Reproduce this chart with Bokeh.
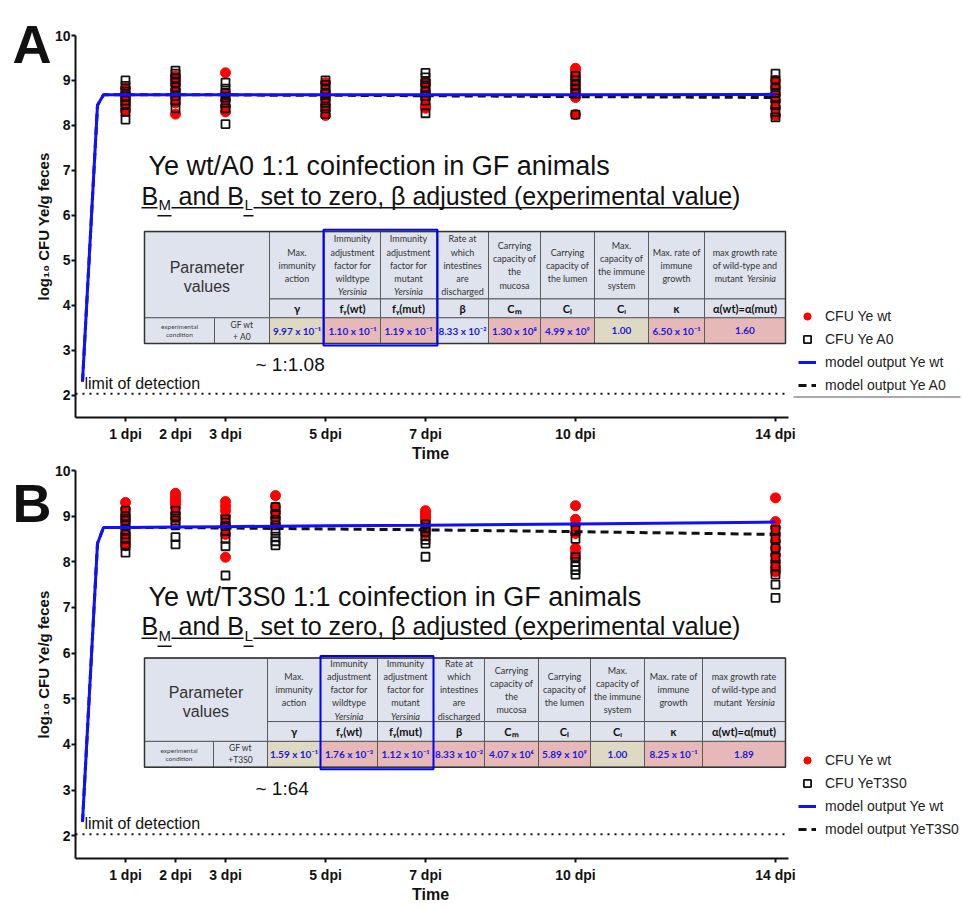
from bokeh.plotting import figure
from bokeh.models import Range1d, FixedTicker, Legend, LegendItem, LinearAxis
from bokeh.layouts import column
from bokeh.embed import file_html
from bokeh.resources import INLINE
from bokeh.core.properties import value

# ---------------- data ----------------
tick_days = [1, 2, 3, 5, 7, 10, 14]
tick_labels = ["1 dpi", "2 dpi", "3 dpi", "5 dpi", "7 dpi", "10 dpi", "14 dpi"]
y_ticks = [2, 3, 4, 5, 6, 7, 8, 9, 10]
limit_of_detection = 2.03

# Panel A: CFU (log10) per day
A_wt = {1: [8.33, 8.45, 8.55, 8.62, 8.72, 8.83],
        2: [8.25, 8.5, 8.62, 8.78, 8.92, 9.02, 9.1],
        3: [8.3, 8.42, 8.57, 8.7, 9.17],
        5: [8.22, 8.35, 8.45, 8.6, 8.75, 8.95],
        7: [8.38, 8.45, 8.6, 8.75, 8.9, 8.97],
        10: [8.24, 8.62, 8.7, 8.8, 8.9, 9.0, 9.1, 9.2, 9.27],
        14: [8.22, 8.4, 8.55, 8.7, 8.85, 9.0]}
A_A0 = {1: [8.13, 8.3, 8.45, 8.55, 8.65, 8.75, 8.88, 9.0],
        2: [8.38, 8.55, 8.65, 8.75, 8.85, 8.95, 9.05, 9.15, 9.22],
        3: [8.03, 8.38, 8.5, 8.62, 8.72, 8.82, 8.95],
        5: [8.25, 8.38, 8.5, 8.6, 8.7, 8.8, 8.9, 9.0],
        7: [8.27, 8.55, 8.65, 8.75, 8.85, 8.95, 9.07, 9.17],
        10: [8.24, 8.7, 8.8, 8.9, 9.0, 9.1],
        14: [8.18, 8.3, 8.45, 8.6, 8.72, 8.85, 9.0, 9.15]}

# Panel B
B_wt = {1: [8.35, 8.42, 8.5, 8.6, 8.75, 8.9, 9.0, 9.15, 9.3],
        2: [8.95, 9.05, 9.2, 9.27, 9.33, 9.4, 9.45, 9.5],
        3: [8.1, 8.6, 8.8, 9.0, 9.12, 9.22, 9.32],
        4: [8.82, 8.95, 9.08, 9.2, 9.45],
        7: [8.62, 8.7, 8.88, 8.95, 9.0, 9.07, 9.12],
        10: [8.1, 8.2, 8.3, 8.62, 8.82, 8.93, 9.23],
        14: [7.78, 7.88, 8.0, 8.15, 8.3, 8.45, 8.6, 8.75, 8.88, 9.4]}
B_T3S0 = {1: [8.2, 8.35, 8.5, 8.6, 8.7, 8.8, 8.9, 9.0, 9.12],
          2: [8.38, 8.54, 8.8, 8.9, 9.0, 9.12],
          3: [7.7, 8.34, 8.5, 8.68, 8.78, 8.86, 8.93],
          4: [8.36, 8.45, 8.55, 8.68, 8.8, 8.92, 9.05, 9.2],
          7: [8.11, 8.4, 8.48, 8.56, 8.66, 8.75, 8.82],
          10: [7.72, 7.82, 7.9, 8.0, 8.1, 8.5, 8.7],
          14: [7.21, 7.5, 7.72, 7.9, 8.1, 8.3, 8.5, 8.7]}

# model output
model_t = [0.14, 0.44, 0.56, 1, 2, 3, 4, 5, 7, 10, 14]
A_model_wt = [2.3, 8.45, 8.68, 8.68, 8.68, 8.68, 8.68, 8.68, 8.68, 8.68, 8.69]
A_model_A0 = [2.3, 8.45, 8.68, 8.68, 8.68, 8.68, 8.67, 8.67, 8.66, 8.64, 8.62]
B_model_wt = [2.3, 8.4, 8.75, 8.75, 8.76, 8.77, 8.78, 8.79, 8.8, 8.83, 8.87]
B_model_T3S0 = [2.3, 8.4, 8.75, 8.75, 8.75, 8.74, 8.73, 8.72, 8.7, 8.66, 8.6]

# parameter table
table_headers = ["Max.\nimmunity\naction",
                 "Immunity\nadjustment\nfactor for\nwildtype\n ",
                 "Immunity\nadjustment\nfactor for\nmutant\n ",
                 "Rate at\nwhich\nintestines\nare\ndischarged",
                 "Carrying\ncapacity of\nthe\nmucosa",
                 "Carrying\ncapacity of\nthe lumen",
                 "Max.\ncapacity of\nthe immune\nsystem",
                 "Max. rate of\nimmune\ngrowth",
                 "max growth rate\nof wild-type and\n "]
table_symbols = ["γ", "fᵧ(wt)", "fᵧ(mut)", "β", "Cₘ", "Cₗ", "Cᵢ", "κ", "α(wt)=α(mut)"]
A_table_values = ["9.97 x 10⁻¹", "1.10 x 10⁻¹", "1.19 x 10⁻¹", "8.33 x 10⁻²", "1.30 x 10⁸",
                  "4.99 x 10⁹", "1.00", "6.50 x 10⁻¹", "1.60"]
B_table_values = ["1.59 x 10⁻¹", "1.76 x 10⁻³", "1.12 x 10⁻¹", "8.33 x 10⁻²", "4.07 x 10⁶",
                  "5.89 x 10⁹", "1.00", "8.25 x 10⁻¹", "1.89"]

FONT = "Liberation Sans"
TFONT = "Lato"
HDR = "#dfe3ed"
BEIGE = "#ddd9c3"
PINK = "#e6b9b8"
A_table_colors = [BEIGE, PINK, PINK, HDR, PINK, PINK, BEIGE, PINK, PINK]
B_table_colors = [BEIGE, PINK, PINK, PINK, PINK, PINK, BEIGE, PINK, PINK]

X_AXIS_END = 14.25   # where the drawn x axis stops
X_FRAME_END = 17.7   # frame continues to the right to host the legend
TIME_POS = 7.1       # centre of the "Time" title under the drawn axis


def X(px):
    return (px - 75) / 50.0


def ya(py):
    return 10 - (py - 35) / 45.375


def yb(py):
    return 10 - (py - 470) / 46.0


def expand(d):
    xs, ys = [], []
    for day, vals in d.items():
        xs += [day] * len(vals)
        ys += vals
    return xs, ys


def txt(p, xs, ys, texts, size, color="#111111", style="normal", align="left",
        font=FONT, lh=1.2):
    p.text(x=xs, y=ys, text=texts, text_font=value(font), text_font_size=f"{size}px",
           text_color=color, text_font_style=style, text_align=align,
           text_baseline="middle", text_line_height=lh)


def bare_axis(tick, label, size, standoff):
    return LinearAxis(ticker=FixedTicker(ticks=[tick]), major_label_overrides={tick: label},
                      axis_line_color=None, major_tick_line_color=None,
                      minor_tick_line_color=None, major_tick_out=0, major_tick_in=0,
                      major_label_standoff=standoff, major_label_text_font=FONT,
                      major_label_text_font_size=size, major_label_text_font_style="bold",
                      major_label_text_color="#111111")


def panel(letter, wt, mut, mwt, mmut, labels, title1, vals, colors, cond, ratio, g):
    Y = g["Y"]
    p = figure(width=962, height=g["height"], x_range=Range1d(0, X_FRAME_END),
               y_range=Range1d(1.5, 10), output_backend="svg", toolbar_location=None,
               min_border_left=75, min_border_right=2, min_border_top=g["top"],
               min_border_bottom=g["bottom"])
    p.xgrid.visible = False
    p.ygrid.visible = False
    p.outline_line_color = None
    p.background_fill_color = None
    p.border_fill_color = None

    for ax in (p.xaxis, p.yaxis):
        ax.axis_line_width = 2
        ax.axis_line_color = "#111111"
        ax.major_tick_line_width = 2
        ax.major_tick_line_color = "#111111"
        ax.major_tick_in = 0
        ax.major_tick_out = 4
        ax.minor_tick_line_color = None
        ax.major_label_text_font = FONT
        ax.major_label_text_font_style = "bold"
        ax.major_label_text_font_size = "14px"
        ax.major_label_text_color = "#111111"
        ax.axis_label_text_font = FONT
        ax.axis_label_text_font_style = "bold"
        ax.axis_label_text_color = "#111111"
    p.xaxis.ticker = FixedTicker(ticks=tick_days)
    p.xaxis.bounds = (0, X_AXIS_END)
    p.xaxis.major_label_overrides = {d: l for d, l in zip(tick_days, tick_labels)}
    p.xaxis.major_label_standoff = 4
    p.yaxis.ticker = FixedTicker(ticks=y_ticks)
    p.yaxis.axis_label = "log₁₀ CFU Ye/g feces"
    p.yaxis.axis_label_text_font_size = "15px"
    p.yaxis.major_label_standoff = 1
    p.yaxis.axis_label_standoff = 0

    # "Time" title centred under the drawn part of the x axis
    p.add_layout(bare_axis(TIME_POS, "Time", "16px", 0), "below")
    # panel letter as an extra, line-less axis on the left
    p.add_layout(bare_axis(g["letter"], letter, "54px", -20), "left")

    # limit of detection (dotted, along the drawn x axis)
    p.segment(x0=[0], x1=[X_AXIS_END], y0=[limit_of_detection], y1=[limit_of_detection],
              line_color="#111111", line_width=2, line_dash="2 5")

    # data
    xw, yw = expand(wt)
    xm, ym = expand(mut)
    r_wt = p.scatter(xw, yw, marker="circle", size=10, fill_color="#ff0000",
                     line_color="#ff0000")
    r_mut = p.scatter(xm, ym, marker="square", size=8, fill_alpha=0, line_color="#111111",
                      line_width=1.8)
    r_mm = p.line(model_t, mmut, line_color="#111111", line_width=3, line_dash="8 5")
    r_mw = p.line(model_t, mwt, line_color="#1010ff", line_width=3)

    # annotations
    txt(p, [X(84)], [Y(g["lod"])], ["limit of detection"], 16)
    txt(p, [X(148)], [Y(g["t1"])], [title1], 27)
    t2 = Y(g["t2"])
    ts = Y(g["t2"] + 9)
    txt(p, [X(141), X(178), X(260)], [t2, t2, t2],
        ["B", "and B", "set to zero, β adjusted (experimental value)"], 25)
    txt(p, [X(158), X(244)], [ts, ts], ["M", "L"], 15)
    ul = Y(g["t2"] + 12)
    ul2 = Y(g["t2"] + 20)
    p.segment(x0=[X(141), X(171), X(253), X(157), X(243)],
              x1=[X(157), X(243), X(732), X(171), X(253)],
              y0=[ul, ul, ul, ul2, ul2], y1=[ul, ul, ul, ul2, ul2],
              line_color="#111111", line_width=1.5)
    txt(p, [X(255)], [Y(g["ratio"])], [ratio], 19)
    if g.get("sep"):
        sp = Y(g["sep"])
        p.segment(x0=[X(793)], x1=[X(962)], y0=[sp], y1=[sp], line_color="#555555",
                  line_width=1)

    # table
    c = g["cols"]
    top, r1, r2, bot = g["rows"]
    L, R, T, B, F = [], [], [], [], []

    def cell(x0, x1, y0, y1, col):
        L.append(X(x0)); R.append(X(x1)); T.append(Y(y0)); B.append(Y(y1)); F.append(col)

    cell(c[0], c[2], top, r2, HDR)
    cell(c[0], c[1], r2, bot, HDR)
    cell(c[1], c[2], r2, bot, HDR)
    for i in range(9):
        cell(c[i + 2], c[i + 3], top, r1, HDR)
        cell(c[i + 2], c[i + 3], r1, r2, HDR)
        cell(c[i + 2], c[i + 3], r2, bot, colors[i])
    p.quad(left=L, right=R, top=T, bottom=B, fill_color=F, line_color="#5a5a5a", line_width=1)
    p.quad(left=[X(c[0])], right=[X(c[-1])], top=[Y(top)], bottom=[Y(bot)], fill_alpha=0,
           line_color="#333333", line_width=1.5)
    bx = g["box"]
    p.quad(left=[X(bx[0])], right=[X(bx[1])], top=[Y(bx[2])], bottom=[Y(bx[3])], fill_alpha=0,
           line_color="#0000ff", line_width=2)

    cx = [X((c[i + 2] + c[i + 3]) / 2) for i in range(9)]
    hy = Y((top + r1) / 2)
    txt(p, cx, [hy] * 9, table_headers, 9, color="#333333", align="center",
        font=TFONT, lh=1.2)
    txt(p, [cx[1], cx[2]], [hy, hy], [" \n \n \n \nYersinia"] * 2, 9, color="#333333",
        style="italic", align="center", font=TFONT, lh=1.2)
    txt(p, [cx[8] - 0.04], [hy], [" \n \nmutant"], 9, color="#333333", align="right",
        font=TFONT, lh=1.2)
    txt(p, [cx[8] + 0.04], [hy], [" \n \nYersinia"], 9, color="#333333", style="italic",
        align="left", font=TFONT, lh=1.2)
    sy = Y((r1 + r2) / 2)
    txt(p, cx, [sy] * 9, table_symbols, 11, color="#111111", style="bold", align="center",
        font=TFONT)
    vy = Y((r2 + bot) / 2)
    txt(p, cx, [vy] * 9, vals, 10, color="#1a1adb", style="bold", align="center",
        font=TFONT)
    txt(p, [X((c[0] + c[2]) / 2)], [Y((top + r2) / 2 + 2)], ["Parameter\nvalues"], 16,
        color="#333333", align="center", lh=1.1)
    txt(p, [X((c[0] + c[1]) / 2)], [vy], ["experimental\ncondition"], 6.5, color="#444444",
        align="center", font=TFONT)
    txt(p, [X((c[1] + c[2]) / 2)], [vy], [cond], 8.5, color="#333333",
        align="center", font=TFONT)

    leg = Legend(items=[LegendItem(label=labels[0], renderers=[r_wt]),
                        LegendItem(label=labels[1], renderers=[r_mut]),
                        LegendItem(label=labels[2], renderers=[r_mw]),
                        LegendItem(label=labels[3], renderers=[r_mm])],
                 location=g["legend"], background_fill_alpha=0, border_line_alpha=0,
                 padding=0, margin=0, spacing=3, glyph_width=18, glyph_height=20,
                 label_height=20, label_standoff=9, label_text_font=FONT,
                 label_text_font_size="14px", label_text_color="#222222")
    p.add_layout(leg)
    return p


gA = dict(Y=ya, height=464, top=35, bottom=44, lod=386, t1=167, t2=197, ratio=367,
          rows=(233, 301, 320, 346),
          cols=[144, 214, 269, 324, 380, 436, 488, 540, 594, 648, 704, 785],
          box=(323, 437, 231, 348), letter=9.8, legend=(723, 22), sep=400)
gB = dict(Y=yb, height=441, top=6, bottom=44, lod=826, t1=597, t2=627, ratio=790,
          rows=(659, 723, 743, 769),
          cols=[144, 213, 267, 320, 377, 433, 484, 538, 590, 644, 702, 785],
          box=(320, 433, 657, 771), letter=9.65, legend=(723, 19), sep=None)

pA = panel("A", A_wt, A_A0, A_model_wt, A_model_A0,
           ["CFU Ye wt", "CFU Ye A0", "model output Ye wt", "model output Ye A0"],
           "Ye wt/A0 1:1 coinfection in GF animals", A_table_values, A_table_colors,
           "GF wt\n+ A0", "~ 1:1.08", gA)
pB = panel("B", B_wt, B_T3S0, B_model_wt, B_model_T3S0,
           ["CFU Ye wt", "CFU YeT3S0", "model output Ye wt", "model output YeT3S0"],
           "Ye wt/T3S0 1:1 coinfection in GF animals", B_table_values, B_table_colors,
           "GF wt\n+T3S0", "~ 1:64", gB)

layout = column(pA, pB, spacing=0)
open("out.html", "w").write(file_html(layout, INLINE))
